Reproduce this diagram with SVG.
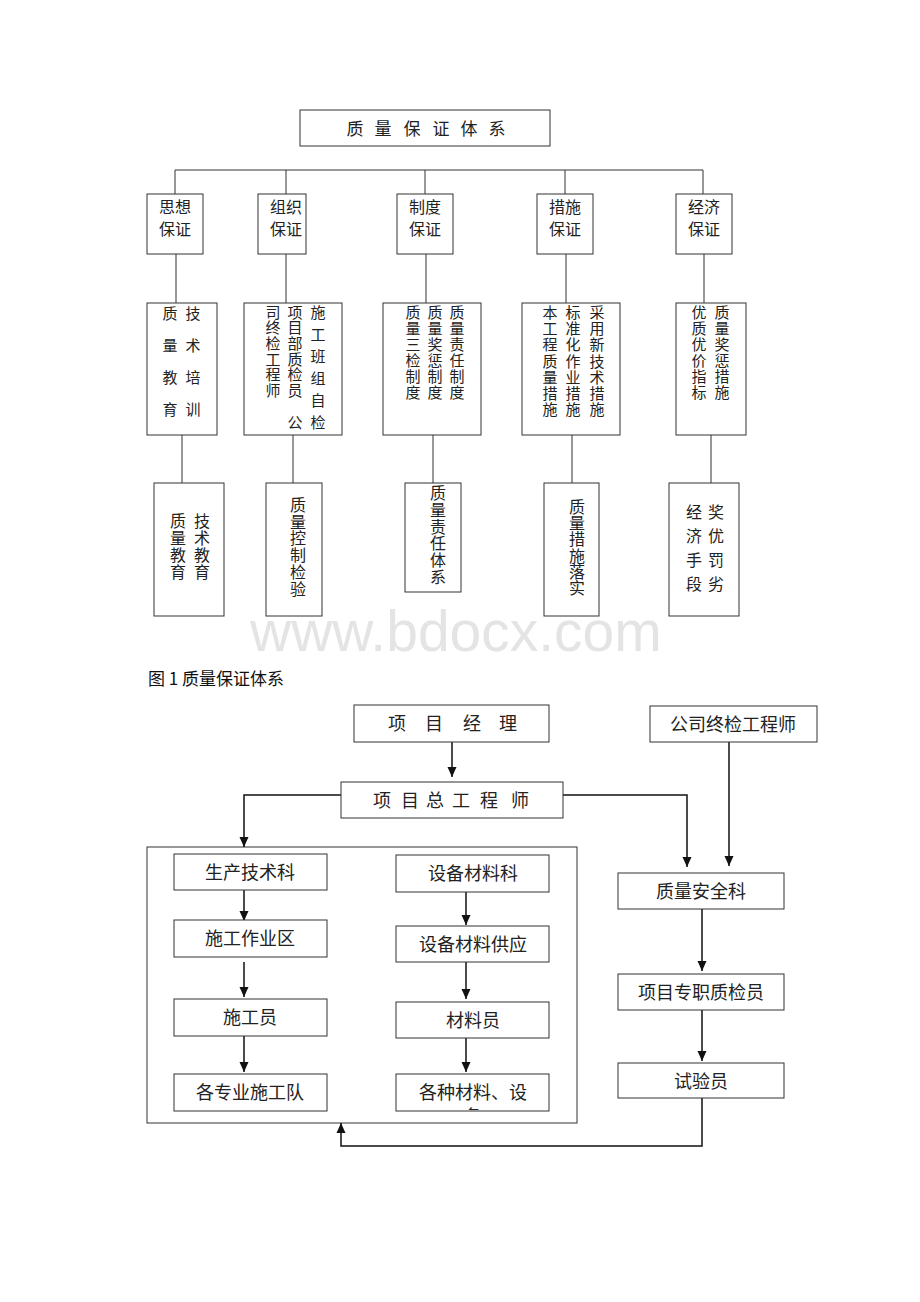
<svg xmlns="http://www.w3.org/2000/svg" width="920" height="1302" viewBox="0 0 920 1302">
<style>
.b{fill:#fff;stroke:#333;stroke-width:1}
.g{fill:none;stroke:#333;stroke-width:1}
.l{fill:none;stroke:#333;stroke-width:1}
.a{fill:none;stroke:#111;stroke-width:1.5}
.t{font-family:"Noto Sans CJK SC","Noto Sans CJK TC",sans-serif;font-size:15px;fill:#222;text-anchor:middle;dominant-baseline:central}
.v{font-family:"Noto Sans CJK SC","Noto Sans CJK TC",sans-serif;font-size:15px;fill:#222;writing-mode:vertical-rl;text-anchor:start}
.v16{font-size:16px}
.m{font-size:17px}
.s{font-size:16px}
.big{font-size:18px}
.wm{font-family:"Liberation Sans",Arial,sans-serif;font-size:57px;fill:#e4e4e4}
.cap{font-family:"Noto Sans CJK SC",serif;font-size:17px;fill:#111}
</style>
<defs>
<marker id="ar" markerUnits="userSpaceOnUse" markerWidth="10" markerHeight="10" viewBox="0 0 10 10" refX="10" refY="5" orient="auto">
<path d="M0,0.5 L10,5 L0,9.5 z" fill="#111"/>
</marker>
<clipPath id="clipEq"><rect x="397" y="1075" width="151" height="35"/></clipPath>
</defs>

<text class="wm" x="250" y="651">www.bdocx.com</text>

<g id="n-group">
<rect class="g" x="147" y="847" width="430" height="276"/>
</g>

<g id="connectors">
<polyline class="l" points="175,194 175,170 703,170 703,194"/>
<line class="l" x1="286" y1="170" x2="286" y2="194"/>
<line class="l" x1="425" y1="170" x2="425" y2="194"/>
<line class="l" x1="565" y1="170" x2="565" y2="194"/>
<line class="l" x1="176" y1="254" x2="176" y2="303"/>
<line class="l" x1="286" y1="254" x2="286" y2="303"/>
<line class="l" x1="426" y1="254" x2="426" y2="303"/>
<line class="l" x1="566" y1="254" x2="566" y2="303"/>
<line class="l" x1="704" y1="254" x2="704" y2="303"/>
<line class="l" x1="182" y1="435" x2="182" y2="483"/>
<line class="l" x1="293" y1="435" x2="293" y2="483"/>
<line class="l" x1="433" y1="435" x2="433" y2="483"/>
<line class="l" x1="572" y1="435" x2="572" y2="483"/>
<line class="l" x1="711" y1="435" x2="711" y2="483"/>
<line class="a" x1="452" y1="742" x2="452" y2="777" marker-end="url(#ar)"/>
<polyline class="a" points="341,795 244,795 244,847" marker-end="url(#ar)"/>
<polyline class="a" points="563,795 687,795 687,867" marker-end="url(#ar)"/>
<line class="a" x1="729" y1="742" x2="729" y2="866" marker-end="url(#ar)"/>
<line class="a" x1="244" y1="890" x2="244" y2="921" marker-end="url(#ar)"/>
<line class="a" x1="244" y1="962" x2="244" y2="997" marker-end="url(#ar)"/>
<line class="a" x1="244" y1="1036" x2="244" y2="1072" marker-end="url(#ar)"/>
<line class="a" x1="466" y1="892" x2="466" y2="925" marker-end="url(#ar)"/>
<line class="a" x1="466" y1="962" x2="466" y2="999" marker-end="url(#ar)"/>
<line class="a" x1="466" y1="1038" x2="466" y2="1072" marker-end="url(#ar)"/>
<line class="a" x1="702" y1="909" x2="702" y2="971" marker-end="url(#ar)"/>
<line class="a" x1="702" y1="1010" x2="702" y2="1061" marker-end="url(#ar)"/>
<polyline class="a" points="702,1098 702,1146 341,1146 341,1123" marker-end="url(#ar)"/>
</g>

<g id="root">
<rect class="b" x="300" y="110" width="250" height="36"/>
<text class="t m"><tspan x="355" y="127">质</tspan><tspan x="383" y="127">量</tspan><tspan x="412" y="127">保</tspan><tspan x="441" y="127">证</tspan><tspan x="469" y="127">体</tspan><tspan x="497" y="127">系</tspan></text>
</g>

<g id="n-sixiang">
<rect class="b" x="147" y="194" width="56" height="60"/>
<text class="t s" x="175" y="206">思想</text><text class="t s" x="175" y="228">保证</text>
</g>
<g id="n-zuzhi">
<rect class="b" x="258" y="194" width="48" height="60"/>
<text class="t s" x="286" y="206">组织</text><text class="t s" x="286" y="228">保证</text>
</g>
<g id="n-zhidu">
<rect class="b" x="397" y="194" width="56" height="60"/>
<text class="t s" x="425" y="206">制度</text><text class="t s" x="425" y="228">保证</text>
</g>
<g id="n-cuoshi">
<rect class="b" x="537" y="194" width="56" height="60"/>
<text class="t s" x="565" y="206">措施</text><text class="t s" x="565" y="228">保证</text>
</g>
<g id="n-jingji">
<rect class="b" x="676" y="194" width="56" height="60"/>
<text class="t s" x="704" y="206">经济</text><text class="t s" x="704" y="228">保证</text>
</g>

<g id="n-r3-1">
<rect class="b" x="147" y="303" width="70" height="132"/>
<text class="v" x="170" y="305.5" letter-spacing="17">质量教育</text>
<text class="v" x="193" y="305.5" letter-spacing="17">技术培训</text>
</g>
<g id="n-r3-2">
<rect class="b" x="244" y="303" width="98" height="132"/>
<text class="v" x="273" y="304.5" letter-spacing="0.7">司终检工程师</text>
<text class="v" x="295" y="304.5" letter-spacing="0.7">项目部质检员　公</text>
<text class="v" x="318" y="304.5" letter-spacing="7">施工班组自检</text>
</g>
<g id="n-r3-3">
<rect class="b" x="383" y="303" width="98" height="132"/>
<text class="v" x="413" y="304.5" letter-spacing="1">质量三检制度</text>
<text class="v" x="435" y="304.5" letter-spacing="1">质量奖惩制度</text>
<text class="v" x="457" y="304.5" letter-spacing="1">质量责任制度</text>
</g>
<g id="n-r3-4">
<rect class="b" x="522" y="303" width="98" height="132"/>
<text class="v" x="550" y="304.5" letter-spacing="1.3">本工程质量措施</text>
<text class="v" x="573" y="304.5" letter-spacing="1.3">标准化作业措施</text>
<text class="v" x="597" y="304.5" letter-spacing="1.3">采用新技术措施</text>
</g>
<g id="n-r3-5">
<rect class="b" x="676" y="303" width="70" height="132"/>
<text class="v" x="699" y="304.5" letter-spacing="1">优质优价指标</text>
<text class="v" x="722" y="304.5" letter-spacing="1">质量奖惩措施</text>
</g>

<g id="n-r4-1">
<rect class="b" x="154" y="483" width="70" height="133"/>
<text class="v v16" x="178" y="513" letter-spacing="1">质量教育</text>
<text class="v v16" x="202" y="513" letter-spacing="1">技术教育</text>
</g>
<g id="n-r4-2">
<rect class="b" x="266" y="483" width="56" height="133"/>
<text class="v v16" x="298" y="497" letter-spacing="0.7">质量控制检验</text>
</g>
<g id="n-r4-3">
<rect class="b" x="405" y="483" width="56" height="109"/>
<text class="v v16" x="438" y="485.3" letter-spacing="0.7">质量责任体系</text>
</g>
<g id="n-r4-4">
<rect class="b" x="544" y="483" width="55" height="133"/>
<text class="v v16" x="577" y="498.7" letter-spacing="0.3">质量措施落实</text>
</g>
<g id="n-r4-5">
<rect class="b" x="669" y="483" width="70" height="133"/>
<text class="v v16" x="694" y="504" letter-spacing="8">经济手段</text>
<text class="v v16" x="716" y="504" letter-spacing="8">奖优罚劣</text>
</g>

<text class="cap" x="148" y="685">图 1 质量保证体系</text>

<g id="n-pm">
<rect class="b" x="354" y="705" width="195" height="37"/>
<text class="t big"><tspan x="397" y="722">项</tspan><tspan x="434" y="722">目</tspan><tspan x="472" y="722">经</tspan><tspan x="508" y="722">理</tspan></text>
</g>
<g id="n-company">
<rect class="b" x="650" y="706" width="167" height="36"/>
<text class="t big" x="733" y="723">公司终检工程师</text>
</g>
<g id="n-chief">
<rect class="b" x="341" y="782" width="222" height="36"/>
<text class="t big"><tspan x="382" y="799">项</tspan><tspan x="410" y="799">目</tspan><tspan x="435" y="799">总</tspan><tspan x="461" y="799">工</tspan><tspan x="489" y="799">程</tspan><tspan x="520" y="799">师</tspan></text>
</g>
<g id="n-sc">
<rect class="b" x="174" y="854" width="153" height="36"/>
<text class="t big" x="250" y="871">生产技术科</text>
</g>
<g id="n-sg">
<rect class="b" x="174" y="920" width="153" height="37"/>
<text class="t big" x="250" y="937">施工作业区</text>
</g>
<g id="n-sgy">
<rect class="b" x="174" y="999" width="153" height="37"/>
<text class="t big" x="250" y="1016">施工员</text>
</g>
<g id="n-team">
<rect class="b" x="174" y="1074" width="153" height="37"/>
<text class="t big" x="250" y="1091">各专业施工队</text>
</g>
<g id="n-sb">
<rect class="b" x="396" y="855" width="153" height="37"/>
<text class="t big" x="473" y="872">设备材料科</text>
</g>
<g id="n-supply">
<rect class="b" x="396" y="926" width="153" height="36"/>
<text class="t big" x="473" y="943">设备材料供应</text>
</g>
<g id="n-cly">
<rect class="b" x="396" y="1002" width="153" height="36"/>
<text class="t big" x="473" y="1019">材料员</text>
</g>
<g id="n-eq">
<rect class="b" x="396" y="1074" width="153" height="37"/>
<text class="t big" x="473" y="1091">各种材料、设</text>
<text class="t big" x="473" y="1115" clip-path="url(#clipEq)">备</text>
</g>
<g id="n-qs">
<rect class="b" x="618" y="873" width="166" height="36"/>
<text class="t big" x="701" y="890">质量安全科</text>
</g>
<g id="n-qc">
<rect class="b" x="618" y="974" width="166" height="36"/>
<text class="t big" x="701" y="991">项目专职质检员</text>
</g>
<g id="n-test">
<rect class="b" x="618" y="1063" width="166" height="35"/>
<text class="t big" x="701" y="1080">试验员</text>
</g>
</svg>
